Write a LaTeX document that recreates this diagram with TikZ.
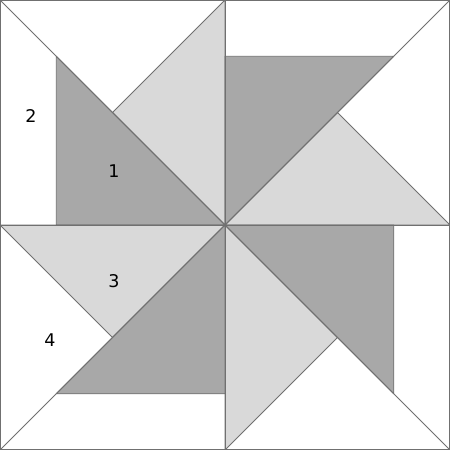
\documentclass[tikz,border=0pt]{standalone}
\usepackage{fontspec}
\setmainfont{DejaVu Sans}
\definecolor{darkpiece}{HTML}{A8A8A8}
\definecolor{lightpiece}{HTML}{D9D9D9}
\definecolor{seam}{HTML}{707070}
\begin{document}
\begin{tikzpicture}[x=1pt,y=-1pt,
  piece/.style={draw=seam,line width=0.8pt,line join=round},
  darkp/.style={piece,fill=darkpiece},
  lightp/.style={piece,fill=lightpiece},
  num/.style={font=\fontsize{17.5}{20}\selectfont,inner sep=0pt}]
\useasboundingbox (0,0) rectangle (450,450);
\fill[white] (0,0) rectangle (450,450);
% top-left
\draw[lightp] (225,0) -- (112.5,112.5) -- (225,225) -- cycle;
\draw[darkp] (56.25,56.25) -- (56.25,225) -- (225,225) -- cycle;
% top-right
\draw[lightp] (450,225) -- (337.5,112.5) -- (225,225) -- cycle;
\draw[darkp] (393.75,56.25) -- (225,56.25) -- (225,225) -- cycle;
% bottom-right
\draw[lightp] (225,450) -- (337.5,337.5) -- (225,225) -- cycle;
\draw[darkp] (393.75,393.75) -- (393.75,225) -- (225,225) -- cycle;
% bottom-left
\draw[lightp] (0,225) -- (112.5,337.5) -- (225,225) -- cycle;
\draw[darkp] (56.25,393.75) -- (225,393.75) -- (225,225) -- cycle;
% seams
\draw[piece] (0,0) -- (450,450);
\draw[piece] (450,0) -- (0,450);
\draw[piece] (225,0) -- (225,450);
\draw[piece] (0,225) -- (450,225);
\draw[piece] (0.5,0.5) rectangle (449.5,449.5);
% labels
\node[num] (n1) at (114,171) {1};
\node[num] (n2) at (31,116) {2};
\node[num] (n3) at (114,281) {3};
\node[num] (n4) at (50,340) {4};
\end{tikzpicture}
\end{document}
